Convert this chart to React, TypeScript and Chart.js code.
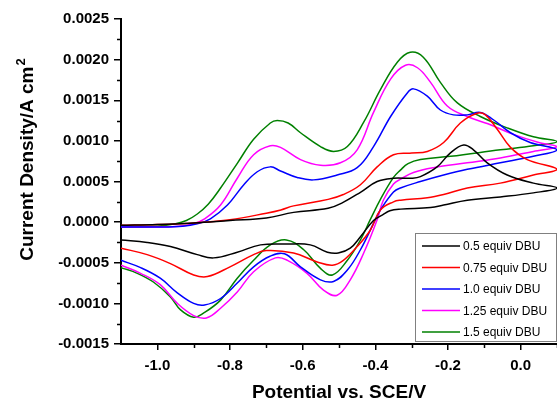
import React, { useEffect, useRef } from "react";
import { Chart, registerables } from "chart.js";

Chart.register(...registerables);

// Potential (V vs SCE) and current density (A cm^-2) pairs
const blackForward: [number, number][] = [[-1.1,-0.00004],[-1.0,-0.00003],[-0.9,-0.00001],[-0.8,0.00002],[-0.7,0.00005],[-0.625,0.00012],[-0.53,0.00017],[-0.49,0.00024],[-0.44,0.00037],[-0.395,0.0005],[-0.35,0.00054],[-0.3,0.00054],[-0.276,0.00056],[-0.23,0.00068],[-0.194,0.00085],[-0.157,0.00095],[-0.13,0.00089],[-0.092,0.00073],[-0.037,0.00058],[0.035,0.00048],[0.1,0.00042]];
const blackReverse: [number, number][] = [[0.1,0.00042],[0.035,0.00036],[-0.056,0.00031],[-0.147,0.00027],[-0.212,0.00021],[-0.248,0.00018],[-0.33,0.00016],[-0.36,0.00014],[-0.38,0.00009],[-0.405,0.00002],[-0.441,-0.00018],[-0.469,-0.00032],[-0.502,-0.00038],[-0.532,-0.00037],[-0.579,-0.00028],[-0.642,-0.00027],[-0.716,-0.00028],[-0.78,-0.00037],[-0.845,-0.00044],[-0.89,-0.0004],[-0.964,-0.0003],[-1.028,-0.00025],[-1.1,-0.00022]];

const redForward: [number, number][] = [[-1.1,-0.00004],[-1.0,-0.00003],[-0.9,-0.00001],[-0.8,0.00003],[-0.7,0.00011],[-0.66,0.00015],[-0.625,0.0002],[-0.53,0.00028],[-0.488,0.00034],[-0.441,0.00046],[-0.395,0.00068],[-0.35,0.00083],[-0.3,0.00085],[-0.257,0.00087],[-0.212,0.00098],[-0.166,0.00122],[-0.12,0.00134],[-0.097,0.00132],[-0.064,0.00114],[-0.028,0.00092],[0.018,0.00077],[0.1,0.00065]];
const redReverse: [number, number][] = [[0.1,0.00065],[0.035,0.00058],[-0.056,0.00048],[-0.147,0.00042],[-0.212,0.00034],[-0.257,0.0003],[-0.33,0.00027],[-0.35,0.00025],[-0.386,0.00015],[-0.414,-0.0001],[-0.45,-0.0003],[-0.488,-0.00047],[-0.518,-0.00053],[-0.56,-0.00049],[-0.625,-0.00038],[-0.7,-0.00035],[-0.735,-0.0004],[-0.8,-0.00055],[-0.862,-0.00067],[-0.9,-0.00065],[-0.964,-0.00051],[-1.028,-0.0004],[-1.1,-0.00032]];

const blueForward: [number, number][] = [[-1.1,-0.00006],[-1.0,-0.00006],[-0.93,-0.00005],[-0.89,-0.00002],[-0.854,0.00004],[-0.807,0.00021],[-0.762,0.00046],[-0.725,0.00062],[-0.689,0.00068],[-0.661,0.00063],[-0.615,0.00055],[-0.57,0.00052],[-0.505,0.00058],[-0.45,0.00067],[-0.405,0.00093],[-0.358,0.0013],[-0.312,0.00159],[-0.295,0.00164],[-0.257,0.00155],[-0.221,0.00138],[-0.185,0.00132],[-0.147,0.00132],[-0.111,0.00135],[-0.075,0.00126],[-0.028,0.0011],[0.026,0.00098],[0.1,0.00089]];
const blueReverse: [number, number][] = [[0.1,0.00088],[0.035,0.00081],[-0.056,0.00073],[-0.147,0.00065],[-0.212,0.00058],[-0.276,0.0005],[-0.331,0.00042],[-0.35,0.00037],[-0.386,0.00015],[-0.4,0.00003],[-0.441,-0.00034],[-0.477,-0.00059],[-0.515,-0.00073],[-0.551,-0.00071],[-0.606,-0.00055],[-0.65,-0.00039],[-0.69,-0.00042],[-0.735,-0.00055],[-0.78,-0.00075],[-0.826,-0.00094],[-0.87,-0.00102],[-0.9,-0.001],[-0.945,-0.00087],[-0.992,-0.00069],[-1.046,-0.00056],[-1.1,-0.00047]];

const magentaForward: [number, number][] = [[-1.1,-0.00006],[-1.0,-0.00006],[-0.94,-0.00005],[-0.9,-0.00002],[-0.87,0.00004],[-0.826,0.00021],[-0.78,0.00054],[-0.735,0.00083],[-0.689,0.00094],[-0.661,0.00092],[-0.606,0.00077],[-0.551,0.0007],[-0.496,0.00073],[-0.45,0.00089],[-0.405,0.00135],[-0.358,0.00176],[-0.317,0.00193],[-0.284,0.0019],[-0.248,0.00172],[-0.202,0.00143],[-0.147,0.0013],[-0.09,0.00121],[-0.02,0.00108],[0.05,0.00098],[0.1,0.00093]];
const magentaReverse: [number, number][] = [[0.1,0.00092],[0.035,0.00087],[-0.056,0.00079],[-0.147,0.00073],[-0.24,0.00067],[-0.295,0.00061],[-0.33,0.00053],[-0.35,0.00047],[-0.378,0.00027],[-0.395,0.00003],[-0.432,-0.00038],[-0.469,-0.00071],[-0.505,-0.0009],[-0.542,-0.00084],[-0.588,-0.00063],[-0.642,-0.00047],[-0.675,-0.00044],[-0.735,-0.00061],[-0.78,-0.00086],[-0.826,-0.00106],[-0.865,-0.00118],[-0.9,-0.00115],[-0.945,-0.001],[-0.992,-0.00077],[-1.046,-0.00063],[-1.1,-0.00053]];

const greenForward: [number, number][] = [[-1.1,-0.00006],[-1.0,-0.00005],[-0.95,-0.00002],[-0.92,0.00002],[-0.89,0.0001],[-0.86,0.00022],[-0.826,0.00042],[-0.779,0.00073],[-0.735,0.00102],[-0.689,0.00122],[-0.67,0.00125],[-0.64,0.00122],[-0.606,0.0011],[-0.551,0.00093],[-0.515,0.00087],[-0.477,0.00093],[-0.432,0.00123],[-0.386,0.00163],[-0.339,0.00197],[-0.304,0.00209],[-0.268,0.00203],[-0.221,0.00172],[-0.175,0.00147],[-0.111,0.0013],[-0.037,0.00116],[0.035,0.00105],[0.1,0.00099]];
const greenReverse: [number, number][] = [[0.1,0.00099],[0.035,0.00094],[-0.056,0.00089],[-0.193,0.00081],[-0.276,0.00077],[-0.31,0.00072],[-0.331,0.00064],[-0.35,0.00055],[-0.386,0.00028],[-0.414,0.00003],[-0.441,-0.00022],[-0.477,-0.00047],[-0.518,-0.00065],[-0.551,-0.00057],[-0.597,-0.00034],[-0.645,-0.00022],[-0.689,-0.00028],[-0.735,-0.00047],[-0.78,-0.00069],[-0.826,-0.00096],[-0.873,-0.00112],[-0.9,-0.00117],[-0.936,-0.00108],[-0.964,-0.00092],[-1.01,-0.00074],[-1.055,-0.00063],[-1.1,-0.00056]];

const seriesLabels = ["0.5 equiv DBU", "0.75 equiv DBU", "1.0 equiv DBU", "1.25 equiv DBU", "1.5 equiv DBU"];
const seriesColors = ["#000000", "#ff0000", "#0000ff", "#ff00ff", "#008000"];
const seriesCurves = [
  [blackForward, blackReverse],
  [redForward, redReverse],
  [blueForward, blueReverse],
  [magentaForward, magentaReverse],
  [greenForward, greenReverse],
];

const xMajorTicks = [-1.0, -0.8, -0.6, -0.4, -0.2, 0.0];
const xMinorTicks = [-0.9, -0.7, -0.5, -0.3, -0.1, 0.1];
const yMajorTicks = [-0.0015, -0.001, -0.0005, 0, 0.0005, 0.001, 0.0015, 0.002, 0.0025];
const yMinorTicks = [-0.00125, -0.00075, -0.00025, 0.00025, 0.00075, 0.00125, 0.00175, 0.00225];

const xTitle = "Potential vs. SCE/V";
const yTitleMain = "Current Density/A cm";
const yTitleSup = "2";

const FONT = "Arial, 'Liberation Sans', sans-serif";

const extrasPlugin = {
  id: "extras",
  afterDraw(chart: any) {
    const { ctx, chartArea, scales } = chart;
    const xs = scales.x;
    const ys = scales.y;
    ctx.save();
    // minor ticks
    ctx.strokeStyle = "#000";
    ctx.lineWidth = 1.5;
    ctx.beginPath();
    xMinorTicks.forEach((v) => {
      const px = Math.round(xs.getPixelForValue(v)) + 0.5;
      ctx.moveTo(px, chartArea.bottom);
      ctx.lineTo(px, chartArea.bottom + 4);
    });
    yMinorTicks.forEach((v) => {
      const py = Math.round(ys.getPixelForValue(v)) + 0.5;
      ctx.moveTo(chartArea.left - 4, py);
      ctx.lineTo(chartArea.left, py);
    });
    ctx.stroke();

    // legend
    const bx = chartArea.right - 142;
    const by = chartArea.bottom - 111;
    const bw = 141;
    const bh = 108;
    ctx.fillStyle = "#ffffff";
    ctx.fillRect(bx, by, bw, bh);
    ctx.strokeStyle = "#808080";
    ctx.lineWidth = 1;
    ctx.strokeRect(bx + 0.5, by + 0.5, bw, bh);
    ctx.font = `12px ${FONT}`;
    ctx.textBaseline = "middle";
    ctx.textAlign = "left";
    seriesLabels.forEach((label, i) => {
      const cy = by + 13 + i * 21.5;
      ctx.strokeStyle = seriesColors[i];
      ctx.lineWidth = 1.5;
      ctx.beginPath();
      ctx.moveTo(bx + 7, cy);
      ctx.lineTo(bx + 45, cy);
      ctx.stroke();
      ctx.fillStyle = "#000";
      ctx.fillText(label, bx + 48, cy + 1);
    });

    // axis titles
    ctx.fillStyle = "#000";
    ctx.font = `bold 19px ${FONT}`;
    ctx.textAlign = "center";
    ctx.textBaseline = "alphabetic";
    ctx.fillText(xTitle, (chartArea.left + chartArea.right) / 2, 398);

    ctx.save();
    ctx.translate(33, 160);
    ctx.rotate(-Math.PI / 2);
    ctx.font = `bold 19px ${FONT}`;
    const w1 = ctx.measureText(yTitleMain).width;
    ctx.font = `bold 13px ${FONT}`;
    const w2 = ctx.measureText(yTitleSup).width;
    const start = -(w1 + w2) / 2;
    ctx.textAlign = "left";
    ctx.font = `bold 19px ${FONT}`;
    ctx.fillText(yTitleMain, start, 0);
    ctx.font = `bold 13px ${FONT}`;
    ctx.fillText(yTitleSup, start + w1 + 1, -8);
    ctx.restore();

    ctx.restore();
  },
};

export default function App() {
  const canvasRef = useRef<HTMLCanvasElement | null>(null);

  useEffect(() => {
    document.body.style.margin = "0";
    const canvas = canvasRef.current;
    if (!canvas) return;
    const datasets = seriesCurves.map((branches, i) => ({
      label: seriesLabels[i],
      data: [...branches[0], ...branches[1].slice(1)].map(([x, y]) => ({ x, y })),
      borderColor: seriesColors[i],
      backgroundColor: seriesColors[i],
      borderWidth: 1.5,
      pointRadius: 0,
      showLine: true,
      tension: 0.4,
      fill: false,
    }));
    const chart = new Chart(canvas, {
      type: "scatter",
      data: { datasets },
      options: {
        animation: false,
        responsive: true,
        maintainAspectRatio: false,
        layout: { padding: { top: 19, right: 0, left: 0, bottom: 0 } },
        plugins: { legend: { display: false }, tooltip: { enabled: false } },
        scales: {
          x: {
            type: "linear",
            min: -1.1,
            max: 0.1,
            afterBuildTicks: (scale: any) => {
              scale.ticks = xMajorTicks.map((v) => ({ value: v }));
            },
            afterFit: (scale: any) => {
              scale.height = 55;
            },
            ticks: {
              autoSkip: false,
              maxRotation: 0,
              padding: 7,
              color: "#000",
              font: { family: FONT, size: 15, weight: "bold" },
              callback: (v: any) => Number(v).toFixed(1),
            },
            grid: { drawOnChartArea: false, drawTicks: true, tickLength: 6, color: "#000", lineWidth: 1.5 },
            border: { display: true, color: "#000", width: 2 },
          },
          y: {
            type: "linear",
            min: -0.0015,
            max: 0.0025,
            afterBuildTicks: (scale: any) => {
              scale.ticks = yMajorTicks.map((v) => ({ value: v }));
            },
            afterFit: (scale: any) => {
              scale.width = 121;
            },
            ticks: {
              autoSkip: false,
              padding: 5,
              color: "#000",
              font: { family: FONT, size: 15, weight: "bold" },
              callback: (v: any) => Number(v).toFixed(4),
            },
            grid: { drawOnChartArea: false, drawTicks: true, tickLength: 7, color: "#000", lineWidth: 1.5 },
            border: { display: true, color: "#000", width: 2 },
          },
        },
      },
      plugins: [extrasPlugin],
    });
    return () => chart.destroy();
  }, []);

  return (
    <div style={{ width: 557, height: 399, position: "relative", background: "#fff" }}>
      <canvas ref={canvasRef} />
    </div>
  );
}
